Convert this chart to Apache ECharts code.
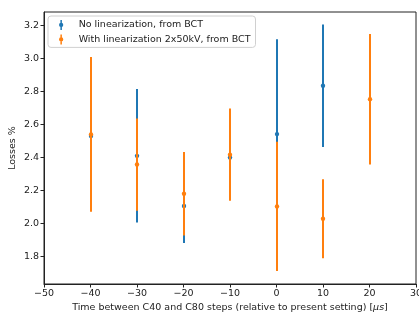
<!DOCTYPE html>
<html>
<head>
<meta charset="utf-8">
<script src="https://cdn.jsdelivr.net/npm/echarts@6/dist/echarts.min.js"></script>
<style>
  html, body { margin: 0; padding: 0; background: #fff; }
  #losses-chart { width: 419px; height: 315px; }
</style>
</head>
<body>
<div id="losses-chart"></div>
<script>
// 数据
const xNoLin = [-40, -30, -20, -10, 0, 10]
const yNoLin = [2.53, 2.41, 2.105, 2.40, 2.542, 2.835]
const errNoLin = [0.36, 0.405, 0.224, 0.24, 0.575, 0.372]

const xLin = [-40, -30, -20, -10, 0, 10, 20]
const yLin = [2.54, 2.357, 2.18, 2.417, 2.103, 2.028, 2.754]
const errLin = [0.47, 0.28, 0.253, 0.28, 0.392, 0.24, 0.396]

const yTicks = [1.8, 2.0, 2.2, 2.4, 2.6, 2.8, 3.0, 3.2]

const font = 'DejaVu Sans'
const blue = '#1f77b4'
const orange = '#ff7f0e'

function zip(xs, ys, es) {
  return xs.map(function (x, i) { return [x, ys[i], es[i]] })
}

// 误差棒 + 点
function errorBar(color) {
  return function (params, api) {
    const x = api.value(0)
    const y = api.value(1)
    const e = api.value(2)
    const top = api.coord([x, y + e])
    const bot = api.coord([x, y - e])
    const c = api.coord([x, y])
    const px = Math.round(c[0]) // 对齐像素, 避免蓝色透出
    return {
      type: 'group',
      children: [
        {
          type: 'line',
          shape: { x1: px, y1: top[1], x2: px, y2: bot[1] },
          style: { stroke: color, lineWidth: 2 }
        },
        {
          type: 'circle',
          shape: { cx: px, cy: c[1], r: 2.2 },
          style: { fill: color }
        }
      ]
    }
  }
}

const icon = 'path://M1.3,0H2.7V9.3H1.3Z M4,4.65A2,2 0 1,1 0,4.65A2,2 0 1,1 4,4.65Z'

const chart = echarts.init(document.getElementById('losses-chart'))
chart.setOption({
  animation: false,
  textStyle: { fontFamily: font },
  grid: {
    left: 44,
    right: 3,
    top: 12,
    bottom: 31,
    outerBoundsMode: 'none',
    containLabel: false,
    show: true,
    borderColor: '#222',
    borderWidth: 1
  },
  legend: {
    left: 48,
    top: 16,
    orient: 'vertical',
    padding: [4, 5, 3, 11],
    itemGap: 4.4,
    itemWidth: 25,
    itemHeight: 10,
    borderColor: '#d0d0d0',
    borderWidth: 1,
    borderRadius: 3,
    backgroundColor: 'rgba(255,255,255,0.8)',
    textStyle: { fontFamily: font, fontSize: 9.5, color: '#222' },
    data: [
      { name: 'No linearization, from BCT', icon: icon, itemStyle: { color: blue } },
      { name: 'With linearization 2x50kV, from BCT', icon: icon, itemStyle: { color: orange } }
    ]
  },
  xAxis: {
    type: 'value',
    min: -50,
    max: 30,
    interval: 10,
    name: '{a|Time between C40 and C80 steps (relative to present setting) [}{i|μs}{a|]}',
    nameLocation: 'middle',
    nameGap: 19,
    nameMoveOverlap: false,
    nameTextStyle: {
      rich: {
        a: { fontFamily: font, fontSize: 9.5, color: '#222' },
        i: { fontFamily: font, fontSize: 9.5, color: '#222', fontStyle: 'italic' }
      }
    },
    splitLine: { show: false },
    axisLine: { onZero: false, lineStyle: { color: '#222', width: 1 } },
    axisTick: { length: 3.5, lineStyle: { color: '#222' } },
    axisLabel: {
      margin: 5,
      fontSize: 9.5,
      color: '#222',
      formatter: function (v) { return v < 0 ? '\u2212' + (-v) : String(v) }
    }
  },
  yAxis: {
    type: 'value',
    min: 1.632,
    max: 3.283,
    name: 'Losses %',
    nameLocation: 'middle',
    nameGap: 26,
    nameMoveOverlap: false,
    nameTextStyle: { fontFamily: font, fontSize: 9.5, color: '#222' },
    splitLine: { show: false },
    axisLine: { show: true, onZero: false, lineStyle: { color: '#222', width: 1 } },
    axisTick: { show: true, length: 3.5, customValues: yTicks, lineStyle: { color: '#222' } },
    axisLabel: {
      margin: 5,
      fontSize: 9.5,
      color: '#222',
      customValues: yTicks,
      formatter: function (v) { return v.toFixed(1) }
    }
  },
  series: [
    {
      name: 'No linearization, from BCT',
      type: 'custom',
      renderItem: errorBar(blue),
      itemStyle: { color: blue },
      encode: { x: 0, y: 1 },
      data: zip(xNoLin, yNoLin, errNoLin)
    },
    {
      name: 'With linearization 2x50kV, from BCT',
      type: 'custom',
      renderItem: errorBar(orange),
      itemStyle: { color: orange },
      encode: { x: 0, y: 1 },
      data: zip(xLin, yLin, errLin)
    }
  ]
})
</script>
</body>
</html>
